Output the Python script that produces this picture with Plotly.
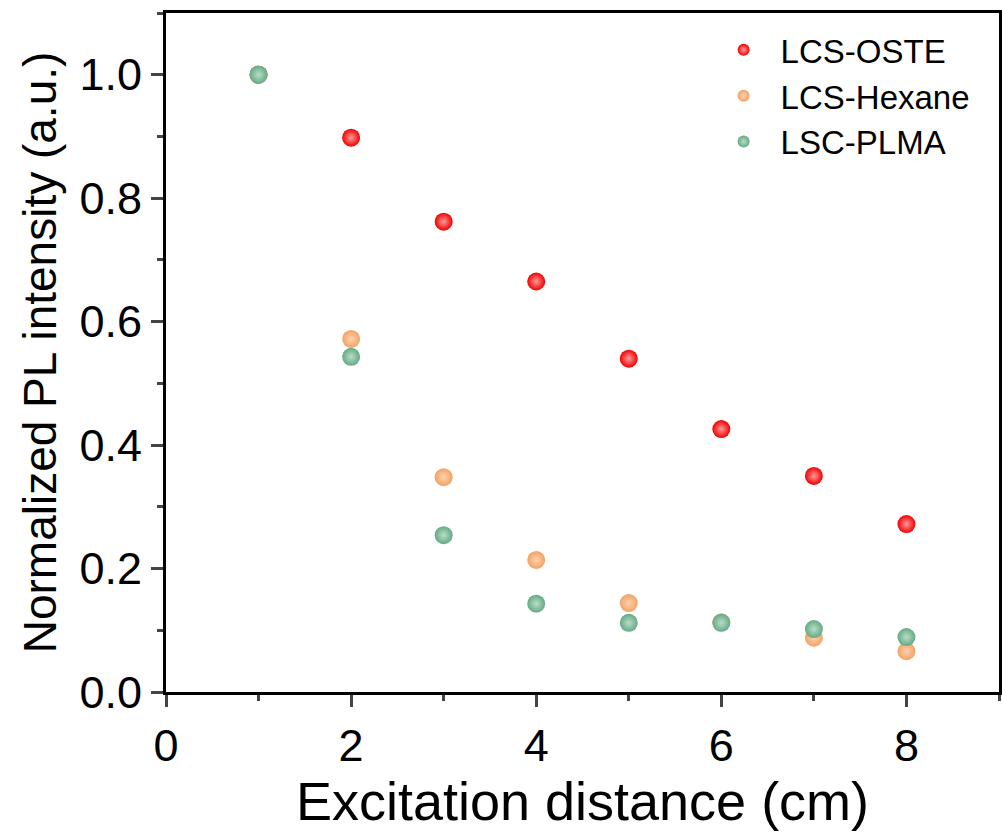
import plotly.graph_objects as go

distance = [1, 2, 3, 4, 5, 6, 7, 8]
lcs_oste = [1.0, 0.898, 0.762, 0.665, 0.540, 0.426, 0.350, 0.272]
lcs_hexane = [1.0, 0.572, 0.348, 0.214, 0.144, 0.113, 0.088, 0.066]
lsc_plma = [1.0, 0.543, 0.254, 0.143, 0.112, 0.112, 0.102, 0.089]

series = [
    ("LCS-OSTE", lcs_oste, "#f00000", "#ff9a9a"),
    ("LCS-Hexane", lcs_hexane, "#f4a263", "#fbd3b0"),
    ("LSC-PLMA", lsc_plma, "#64aa84", "#b9ddc8"),
]

fig = go.Figure()
for name, vals, col, light in series:
    fig.add_trace(go.Scatter(
        x=distance, y=vals, mode="markers", name=name,
        marker=dict(size=18, color=col,
                    gradient=dict(type="radial", color=light),
                    line=dict(width=0)),
    ))

font = "Liberation Sans, Arial, sans-serif"
fig.update_layout(
    width=1002, height=840,
    margin=dict(l=166, r=0, t=13, b=148),
    plot_bgcolor="white", paper_bgcolor="white",
    font=dict(family=font, color="black"),
    showlegend=True,
    legend=dict(x=0.649, y=0.987, xanchor="left", yanchor="top",
                font=dict(size=33, family=font), bgcolor="rgba(0,0,0,0)",
                itemsizing="constant", itemwidth=64, tracegroupgap=0),
    xaxis=dict(range=[0, 9], tickvals=[0, 2, 4, 6, 8], ticks="outside",
               ticklen=12, tickwidth=3, linewidth=3, linecolor="black",
               mirror=True, showgrid=False, zeroline=False,
               tickfont=dict(size=45), title=dict(text="Excitation distance (cm)",
               font=dict(size=54), standoff=10),
               minor=dict(ticks="outside", ticklen=6, tickwidth=3, dtick=1, tick0=0, showgrid=False)),
    yaxis=dict(range=[0, 1.1], tickvals=[0, 0.2, 0.4, 0.6, 0.8, 1.0], tickformat=".1f",
               ticks="outside", ticklen=12, tickwidth=3, linewidth=3, linecolor="black",
               mirror=True, showgrid=False, zeroline=False,
               tickfont=dict(size=45), title=dict(text="Normalized PL intensity (a.u.)",
               font=dict(size=46), standoff=9),
               minor=dict(ticks="outside", ticklen=6, tickwidth=3, dtick=0.1, tick0=0, showgrid=False)),
)

fig.write_html("out.html")
